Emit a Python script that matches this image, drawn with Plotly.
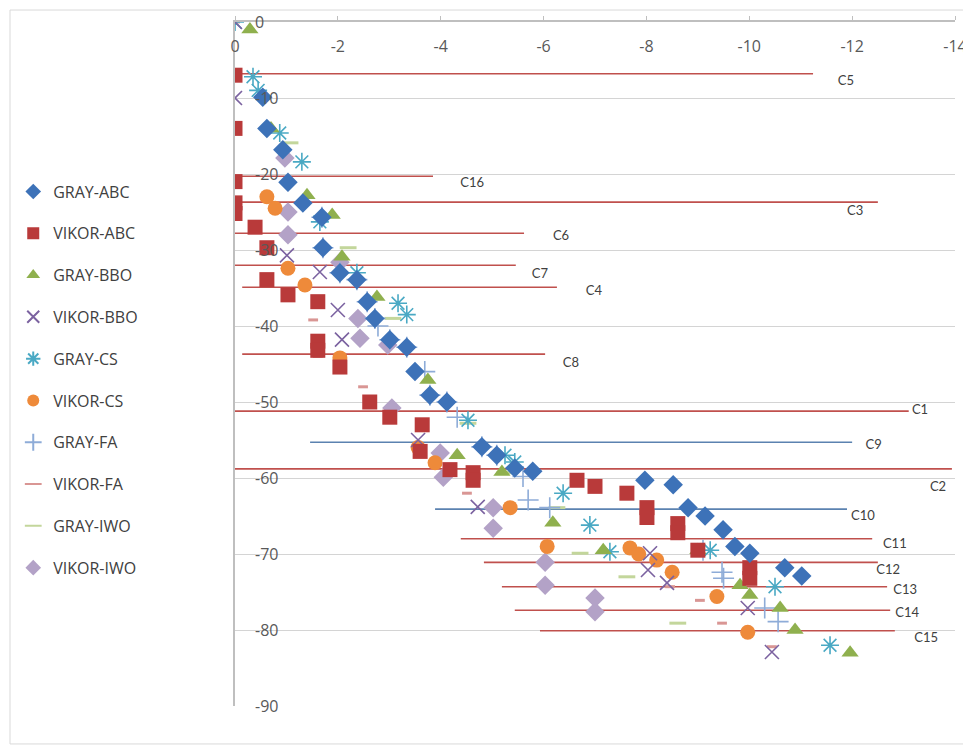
import plotly.graph_objects as go

# ---------------- data ----------------
series_names = ["GRAY-ABC", "VIKOR-ABC", "GRAY-BBO", "VIKOR-BBO", "GRAY-CS",
                "VIKOR-CS", "GRAY-FA", "VIKOR-FA", "GRAY-IWO", "VIKOR-IWO"]

gray_abc_x = [-0.54, -0.62, -0.93, -1.03, -1.32, -1.69, -1.71, -2.04, -2.37, -2.57, -2.72, -3.01, -3.34,
              -3.50, -3.79, -4.12, -4.80, -5.09, -5.44, -5.79, -7.97, -8.52, -8.81, -9.14, -9.49, -9.72,
              -10.01, -10.69, -11.02]
gray_abc_y = [-9.9, -14.0, -16.8, -21.1, -23.8, -25.7, -29.7, -33.0, -33.9, -36.8, -39.0, -41.8, -42.8,
              -46.0, -49.1, -50.0, -55.9, -57.0, -58.7, -59.1, -60.3, -60.9, -63.9, -65.0, -66.8, -69.0,
              -69.9, -71.8, -72.9]

vikor_abc_x = [0, 0, 0, 0, 0, -0.39, -0.62, -0.62, -1.03, -1.61, -1.61, -1.61, -2.04, -2.62, -3.01,
               -3.64, -3.60, -4.18, -4.63, -4.63, -6.65, -7.00, -7.62, -8.01, -8.01, -8.61, -8.61, -9.00,
               -10.01, -10.01]
vikor_abc_y = [-7.0, -14.0, -21.0, -23.8, -25.2, -27.0, -29.7, -33.9, -35.9, -36.8, -42.0, -43.2, -45.4,
               -50.0, -52.0, -53.0, -56.5, -58.9, -59.3, -60.3, -60.3, -61.1, -62.0, -63.9, -65.2, -66.0,
               -67.2, -69.5, -71.8, -73.2]

gray_bbo_x = [-0.29, -0.70, -1.40, -1.89, -2.08, -2.76, -3.75, -4.32, -5.19, -6.18, -7.16, -9.00, -9.82,
              -10.01, -10.60, -10.89, -11.96]
gray_bbo_y = [-1.0, -14.0, -22.8, -25.4, -30.9, -36.2, -47.1, -57.0, -59.2, -65.9, -69.5, -69.5, -74.1,
              -75.4, -77.1, -80.0, -83.0]

vikor_bbo_x = [0, 0, -1.01, -1.65, -2.00, -2.08, -3.56, -4.72, -8.07, -8.03, -8.40, -9.97, -10.44]
vikor_bbo_y = [0, -10.0, -30.7, -32.9, -37.9, -41.8, -55.0, -63.8, -69.9, -72.1, -73.8, -77.1, -82.9]

gray_cs_x = [0, -0.35, -0.45, -0.87, -1.30, -1.65, -2.37, -3.17, -3.34, -4.53, -5.25, -5.44, -6.38,
             -6.90, -7.29, -9.24, -10.50, -11.57]
gray_cs_y = [0, -7.2, -9.0, -14.6, -18.4, -26.3, -33.0, -37.0, -38.5, -52.4, -57.0, -57.9, -62.0,
             -66.2, -69.7, -69.5, -74.3, -82.0]

vikor_cs_x = [-0.62, -0.78, -1.03, -1.36, -2.04, -3.56, -3.89, -5.35, -6.07, -7.68, -7.85, -8.20, -8.50,
              -9.37, -9.97]
vikor_cs_y = [-23.0, -24.5, -32.4, -34.6, -44.2, -56.0, -58.0, -63.9, -69.0, -69.2, -70.0, -70.8, -72.4,
              -75.6, -80.3]

gray_fa_x = [-1.69, -1.71, -2.04, -2.37, -2.57, -2.72, -2.78, -3.01, -3.34, -3.69, -3.79, -4.12, -4.32,
             -4.80, -5.09, -5.60, -5.70, -6.12, -9.10, -9.47, -9.50, -10.30, -10.56]
gray_fa_y = [-25.7, -29.7, -33.0, -33.9, -36.8, -39.0, -40.0, -41.8, -42.8, -46.0, -49.1, -50.0, -52.0,
             -55.9, -57.0, -59.8, -62.9, -63.9, -69.5, -72.4, -73.2, -77.1, -78.9]

vikor_fa_x = [0, 0, 0, 0, 0, 0, -0.39, -0.62, -1.03, -1.52, -1.61, -1.61, -2.49, -2.62, -3.01, -4.51,
              -8.46, -9.04, -9.47, -10.44]
vikor_fa_y = [0, -7.0, -14.0, -21.0, -23.8, -25.2, -27.0, -34.0, -36.5, -39.2, -42.5, -44.0, -48.0,
              -50.5, -51.5, -62.0, -74.3, -76.1, -79.1, -82.2]

gray_iwo_x = [-1.07, -2.20, -3.07, -4.53, -5.25, -6.26, -6.71, -7.62, -8.61]
gray_iwo_y = [-15.9, -29.7, -39.0, -52.8, -59.3, -63.9, -69.9, -73.0, -79.1]

vikor_iwo_x = [-0.97, -1.03, -1.03, -2.04, -2.39, -2.43, -2.97, -3.05, -3.99, -4.05, -5.02, -5.02,
               -6.03, -6.03, -7.00, -7.00]
vikor_iwo_y = [-17.9, -25.0, -28.0, -31.6, -39.0, -41.6, -42.5, -50.8, -56.7, -59.9, -63.9, -66.6,
               -71.1, -74.1, -75.8, -77.6]

# criteria reference lines
crit_names = ["C5", "C16", "C3", "C6", "C7", "C4", "C8", "C1", "C9", "C2", "C10", "C11", "C12", "C13", "C14", "C15"]
crit_y = [-6.8, -20.3, -23.7, -27.8, -32.0, -34.9, -43.7, -51.2, -55.3, -58.8, -64.1, -68.0, -71.1, -74.3, -77.4, -80.1]
crit_x0 = [0.0, 0.0, 0.29, 0.1, 0.05, -0.14, -0.14, 0.06, -1.46, 0.2, -3.89, -4.39, -4.84, -5.19, -5.44, -5.93]
crit_x1 = [-11.24, -3.85, -12.5, -5.62, -5.46, -6.26, -6.03, -13.1, -12.0, -13.94, -11.9, -12.39, -12.5, -12.68, -12.74, -12.83]
crit_kind = ["red", "red", "red", "red", "red", "red", "red", "red", "blue", "red", "blue", "red", "red", "red", "red", "red"]
crit_label_x = [-11.88, -4.61, -12.06, -6.34, -5.93, -6.98, -6.53, -13.32, -12.42, -13.67, -12.21, -12.83, -12.70, -13.03, -13.07, -13.44]
crit_label_y = [-7.9, -21.3, -25.0, -28.3, -33.3, -35.5, -45.0, -51.2, -55.8, -61.3, -65.1, -68.8, -72.2, -74.9, -77.9, -81.2]

x_ticks = [0, -2, -4, -6, -8, -10, -12, -14]
x_tick_labels = ["0", "-2", "-4", "-6", "-8", "-10", "-12", "-14"]
y_ticks = [0, -10, -20, -30, -40, -50, -60, -70, -80, -90]
y_tick_labels = ["0", "-10", "-20", "-30", "-40", "-50", "-60", "-70", "-80", "-90"]

# ---------------- styles ----------------
line_colors = {"red": "#c0504d", "blue": "#5b82b0"}

styles = [
    dict(symbol="diamond", size=15, color="#3d72b8"),
    dict(symbol="square", size=15, color="#b93a3a"),
    dict(symbol="triangle-up", size=15, color="#8fb04e"),
    dict(symbol="x-thin", size=14, color="#7b62a0", line=dict(color="#7b62a0", width=1.6)),
    dict(symbol="asterisk", size=15, color="#4aa9c4", line=dict(color="#4aa9c4", width=1.6)),
    dict(symbol="circle", size=15, color="#ee8a3a"),
    dict(symbol="cross-thin", size=15, color="#8eacd8", line=dict(color="#8eacd8", width=1.6)),
    dict(symbol="line-ew", size=7, color="#d99694", line=dict(color="#d99694", width=3)),
    dict(symbol="line-ew", size=12, color="#c3d69b", line=dict(color="#c3d69b", width=3)),
    dict(symbol="diamond", size=15, color="#b3a2c7"),
]

series_x = [gray_abc_x, vikor_abc_x, gray_bbo_x, vikor_bbo_x, gray_cs_x,
            vikor_cs_x, gray_fa_x, vikor_fa_x, gray_iwo_x, vikor_iwo_x]
series_y = [gray_abc_y, vikor_abc_y, gray_bbo_y, vikor_bbo_y, gray_cs_y,
            vikor_cs_y, gray_fa_y, vikor_fa_y, gray_iwo_y, vikor_iwo_y]

fig = go.Figure()

# criteria lines (behind markers)
for name, yv, x0, x1, kind in zip(crit_names, crit_y, crit_x0, crit_x1, crit_kind):
    fig.add_trace(go.Scatter(x=[x0, x1], y=[yv, yv], mode="lines",
                             line=dict(color=line_colors[kind], width=1.6),
                             showlegend=False, hoverinfo="skip"))

fig.add_trace(go.Scatter(x=crit_label_x, y=crit_label_y, mode="text", text=crit_names,
                         textfont=dict(family="Lato, Open Sans, sans-serif", size=13, color="#404040"),
                         showlegend=False, hoverinfo="skip"))

order = [9, 8, 7, 6, 5, 4, 3, 2, 1, 0]
traces = {}
for i in range(10):
    st = styles[i]
    marker = dict(symbol=st["symbol"], size=st["size"], color=st["color"])
    if "line" in st:
        marker["line"] = st["line"]
    traces[i] = go.Scatter(x=series_x[i], y=series_y[i], mode="markers", name=series_names[i],
                           marker=marker, legendgroup=series_names[i], legendrank=i + 1)
for i in order:
    fig.add_trace(traces[i])

# invisible trace that carries the label-only axes
fig.add_trace(go.Scatter(x=[x_ticks[0]], y=[y_ticks[0]], xaxis="x2", yaxis="y2", mode="markers",
                         marker=dict(opacity=0), showlegend=False, hoverinfo="skip"))

tick_font = dict(size=16, color="#595959", family="Open Sans, sans-serif")

# the page body adds an 8px offset, so the figure is sized/margined to compensate
fig.update_layout(
    width=963, height=739,
    margin=dict(l=227, r=16, t=14, b=41, autoexpand=False),
    paper_bgcolor="white", plot_bgcolor="white",
    font=dict(family="Open Sans, sans-serif", color="#595959"),
    xaxis=dict(range=[0, -14], side="top", tickvals=x_ticks, showticklabels=False,
               ticks="outside", ticklen=4, tickcolor="#bfbfbf",
               showgrid=False, zeroline=False, showline=True, linecolor="#bfbfbf", linewidth=1.5),
    yaxis=dict(range=[-90, 0], tickvals=y_ticks, showticklabels=False,
               showgrid=True, gridcolor="#d4d4d4", gridwidth=1.3, zeroline=False,
               showline=True, linecolor="#bfbfbf", linewidth=1.5),
    xaxis2=dict(range=[0, -14], overlaying="x", side="bottom", anchor="free", position=1,
                tickvals=x_ticks, ticktext=x_tick_labels, ticks="", ticklabelstandoff=13,
                showgrid=False, zeroline=False, showline=False, tickfont=tick_font),
    yaxis2=dict(range=[-90, 0], overlaying="y", side="right", anchor="free", position=0,
                tickvals=y_ticks, ticktext=y_tick_labels, ticks="", ticklabelstandoff=19,
                showgrid=False, zeroline=False, showline=False, tickfont=tick_font),
    legend=dict(x=-0.308, xanchor="left", y=0.777, yanchor="top",
                traceorder="grouped", tracegroupgap=18, itemsizing="constant",
                font=dict(size=16, color="#404040", family="Open Sans, sans-serif"),
                bgcolor="rgba(0,0,0,0)"),
    shapes=[dict(type="rect", xref="paper", yref="paper",
                 x0=-0.3125, x1=1.0195, y0=-0.0555, y1=1.0175,
                 line=dict(color="#d9d9d9", width=1), layer="below")],
)

fig.write_html("out.html")
